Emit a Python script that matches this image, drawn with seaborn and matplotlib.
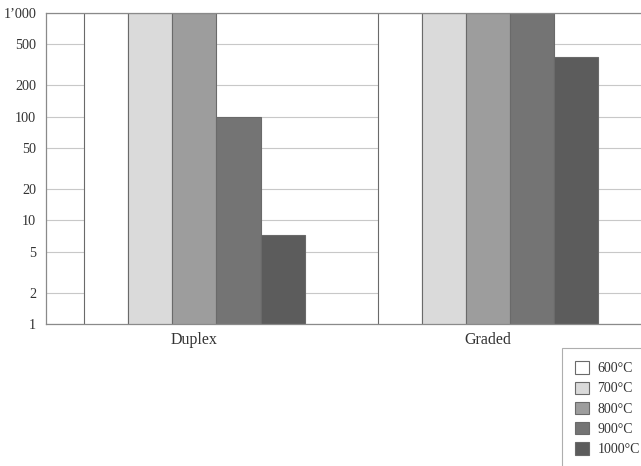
import matplotlib
matplotlib.use("Agg")
import matplotlib.pyplot as plt
import pandas as pd
import seaborn as sns

# values (bars at the top are cut at 1'000)
groups = ["Duplex", "Graded"]
temps = ["600°C", "700°C", "800°C", "900°C", "1000°C"]
duplex = [1000, 1000, 1000, 100, 7.2]
graded = [1000, 1000, 1000, 1000, 380]
colors = ["#ffffff", "#dadada", "#9d9d9d", "#747474", "#5c5c5c"]
yticks = [1, 2, 5, 10, 20, 50, 100, 200, 500, 1000]
ylabels = ["1", "2", "5", "10", "20", "50", "100", "200", "500", "1\u2019000"]

df = pd.DataFrame({
    "group": [g for g in groups for _ in temps],
    "temp": temps * 2,
    "value": duplex + graded,
})

sns.set_style("white")
plt.rcParams["font.family"] = ["Liberation Serif", "DejaVu Serif"]

fig = plt.figure(figsize=(6.41, 4.66), dpi=100)
ax = fig.add_axes([0.0718, 0.3047, 0.9282, 0.6673])
ax.set_yscale("log")

sns.barplot(data=df, x="group", y="value", hue="temp", hue_order=temps,
            palette=colors, width=0.75, edgecolor="#6a6a6a", linewidth=0.8,
            saturation=1, legend=False, ax=ax, zorder=2)

ax.set_ylim(1, 1000)
ax.set_xlim(-0.505, 1.52)
ax.set_yticks(yticks)
ax.set_yticklabels(ylabels)
ax.minorticks_off()
ax.yaxis.grid(True, color="#c8c8c8", linewidth=0.8, zorder=0)
ax.set_axisbelow(True)
ax.tick_params(axis="both", length=0, labelsize=10.2, colors="#333333")
ax.tick_params(axis="y", pad=7)
ax.tick_params(axis="x", labelsize=11.5, pad=6)
ax.set_xlabel("")
ax.set_ylabel("")
for side in ["left", "bottom", "top"]:
    ax.spines[side].set_color("#8a8a8a")
    ax.spines[side].set_linewidth(0.9)
ax.spines["right"].set_visible(False)

handles = [plt.Rectangle((0, 0), 1, 1, facecolor=c, edgecolor="#6a6a6a",
                         linewidth=0.8) for c in colors]
leg = fig.legend(handles, temps, loc="upper left",
                 bbox_to_anchor=(0.877, 0.253), borderaxespad=0,
                 frameon=True, fontsize=10,
                 handlelength=1.0, handleheight=1.0, handletextpad=0.6,
                 labelspacing=0.45, borderpad=0.95, fancybox=False)
leg.get_frame().set_edgecolor("#9a9a9a")
leg.get_frame().set_linewidth(0.8)
for t in leg.get_texts():
    t.set_color("#333333")

fig.savefig("out.png", dpi=100)
